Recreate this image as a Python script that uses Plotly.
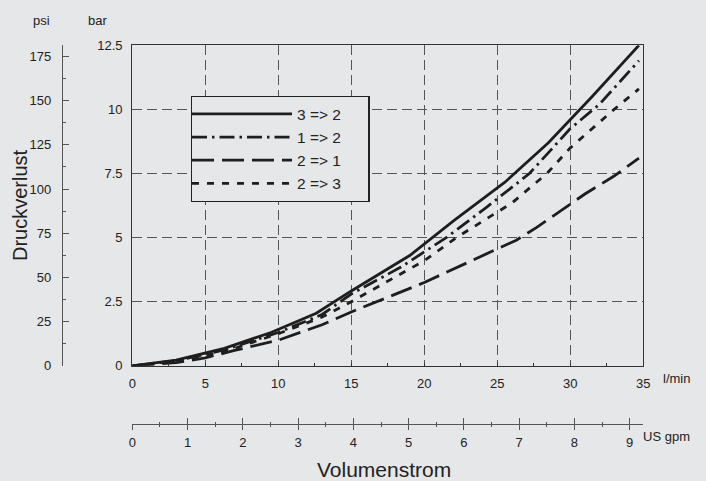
import plotly.graph_objects as go

# ---- data ----
x_32 = [0, 3, 6.3, 9.5, 12.6, 15, 19, 22, 25.5, 28.5, 31.5, 34.7]
y_32 = [0, 0.22, 0.68, 1.3, 2.05, 2.92, 4.3, 5.65, 7.15, 8.7, 10.5, 12.5]

x_12 = [0, 3, 6.3, 10, 13, 15, 18.4, 21.5, 24.3, 27.2, 30, 32, 34.7]
y_12 = [0, 0.2, 0.62, 1.3, 2.0, 2.8, 3.85, 5.0, 6.2, 7.5, 9.25, 10.2, 11.9]

x_21 = [0, 3, 5, 7, 10, 13, 15, 20, 26.3, 27.7, 31, 33, 34.7]
y_21 = [0, 0.12, 0.31, 0.6, 1.0, 1.6, 2.1, 3.25, 4.9, 5.4, 6.7, 7.4, 8.1]

x_23 = [0, 3, 6.3, 10, 13, 15, 20, 22.2, 26, 28.4, 30, 33, 34.7]
y_23 = [0, 0.18, 0.55, 1.25, 1.9, 2.5, 4.1, 5.0, 6.35, 7.5, 8.5, 10.0, 10.8]

series_names = ["3 => 2", "1 => 2", "2 => 1", "2 => 3"]

BAR_TO_PSI = 14.5038
GPM_TO_LMIN = 3.78541
X_MAX = 35
Y_MAX = 12.5

# ---- layout geometry ----
W, H = 706, 481
BG = "#e6e7e8"
INK = "#1e1e1e"
GRID = "#555555"
FONT = "Liberation Sans, Arial, sans-serif"

xd = [132.3 / W, 643.3 / W]
yd = [1 - 365.8 / H, 1 - 45.3 / H]

fig = go.Figure()

styles = [
    dict(dash="solid", width=2.8),
    dict(dash="15px,5px,2.5px,5px", width=2.8),
    dict(dash="22px,8px", width=2.8),
    dict(dash="7px,8px", width=2.8),
]
for xs, ys, name, st in zip([x_32, x_12, x_21, x_23], [y_32, y_12, y_21, y_23], series_names, styles):
    fig.add_trace(go.Scatter(x=xs, y=ys, mode="lines", name=name + "\u00a0" * 5,
                             line=dict(color=INK, width=st["width"], dash=st["dash"]),
                             hoverinfo="skip"))

# invisible helper traces so the secondary axes are drawn
fig.add_trace(go.Scatter(x=x_32, y=[v * BAR_TO_PSI for v in y_32], xaxis="x", yaxis="y2",
                         mode="lines", line=dict(width=0), opacity=0, showlegend=False, hoverinfo="skip"))
fig.add_trace(go.Scatter(x=[v / GPM_TO_LMIN for v in x_32], y=y_32, xaxis="x2", yaxis="y",
                         mode="lines", line=dict(width=0), opacity=0, showlegend=False, hoverinfo="skip"))
fig.add_trace(go.Scatter(x=[v / GPM_TO_LMIN for v in x_32], y=y_32, xaxis="x3", yaxis="y",
                         mode="lines", line=dict(width=0), opacity=0, showlegend=False, hoverinfo="skip"))

tickfont = dict(family=FONT, size=13, color="#222222")

fig.update_layout(
    template="none",
    width=W, height=H,
    margin=dict(l=0, r=0, t=0, b=0, pad=0, autoexpand=False),
    paper_bgcolor=BG, plot_bgcolor=BG,
    font=dict(family=FONT, color="#222222"),
    showlegend=True,
    legend=dict(x=190.7 / W, y=1 - 96 / H, xanchor="left", yanchor="top",
                bgcolor=BG, bordercolor="#222222", borderwidth=1.3,
                font=dict(family=FONT, size=15.5, color="#222222"),
                itemwidth=100, tracegroupgap=0, indentation=-5),
    xaxis=dict(domain=xd, range=[0, X_MAX], anchor="y", automargin=False,
               showline=True, linecolor="#333333", linewidth=1.3, mirror=True,
               tickmode="linear", tick0=0, dtick=5,
               ticks="inside", ticklen=3, tickcolor="#333333",
               minor=dict(dtick=2.5, ticks="inside", ticklen=3, tickcolor="#333333", showgrid=False),
               showgrid=True, gridcolor=GRID, gridwidth=1, griddash="10px,5px",
               zeroline=False, tickfont=tickfont, ticklabelstandoff=5),
    yaxis=dict(domain=yd, range=[0, Y_MAX], anchor="x", automargin=False,
               showline=True, linecolor="#333333", linewidth=1.3, mirror=True,
               tickmode="linear", tick0=0, dtick=2.5, ticks="",
               showgrid=True, gridcolor=GRID, gridwidth=1, griddash="10px,5px",
               zeroline=False, tickfont=tickfont, ticklabelstandoff=6),
    yaxis2=dict(overlaying="y", anchor="free", position=62 / W, side="left", automargin=False,
                range=[0, Y_MAX * BAR_TO_PSI],
                tickmode="linear", tick0=0, dtick=25,
                ticks="inside", ticklen=6, tickcolor="#555555",
                minor=dict(dtick=12.5, ticks="inside", ticklen=3, tickcolor="#555555", showgrid=False),
                showline=True, linecolor="#555555", linewidth=1.2,
                showgrid=False, zeroline=False, tickfont=tickfont, ticklabelstandoff=8),
    xaxis2=dict(overlaying="x", anchor="free", position=1 - 423.7 / H, side="bottom", automargin=False,
                range=[0, X_MAX / GPM_TO_LMIN],
                tickmode="linear", tick0=0, dtick=1,
                ticks="outside", ticklen=5, tickcolor="#555555",
                minor=dict(dtick=0.5, ticks="outside", ticklen=2, tickcolor="#555555", showgrid=False),
                showline=True, linecolor="#555555", linewidth=1.2,
                showgrid=False, zeroline=False, tickfont=tickfont, ticklabelstandoff=2),
    xaxis3=dict(overlaying="x", anchor="free", position=1 - 423.7 / H, side="bottom", automargin=False,
                range=[0, X_MAX / GPM_TO_LMIN],
                tickmode="linear", tick0=0, dtick=1,
                ticks="inside", ticklen=6, tickcolor="#555555",
                minor=dict(dtick=0.5, ticks="inside", ticklen=2, tickcolor="#555555", showgrid=False),
                showline=False, showticklabels=False,
                showgrid=False, zeroline=False),
)

def label(text, x, y, size=13, angle=0):
    fig.add_annotation(text=text, x=x / W, y=1 - y / H, xref="paper", yref="paper",
                       showarrow=False, textangle=angle, xanchor="center", yanchor="middle",
                       font=dict(family=FONT, size=size, color="#222222"))

label("psi", 41, 20)
label("bar", 97, 20)
label("Druckverlust", 20, 205, size=20, angle=-90)
label("Volumenstrom", 384, 469, size=21)
label("l/min", 676, 378)
label("US gpm", 666, 436)

page_css = ("document.body.style.margin='0';document.body.style.padding='0';"
            "document.body.style.overflow='hidden';"
            "document.body.style.background='" + BG + "';"
            "document.documentElement.style.background='" + BG + "';")

fig.write_html("out.html", post_script=page_css, config={"displayModeBar": False})
